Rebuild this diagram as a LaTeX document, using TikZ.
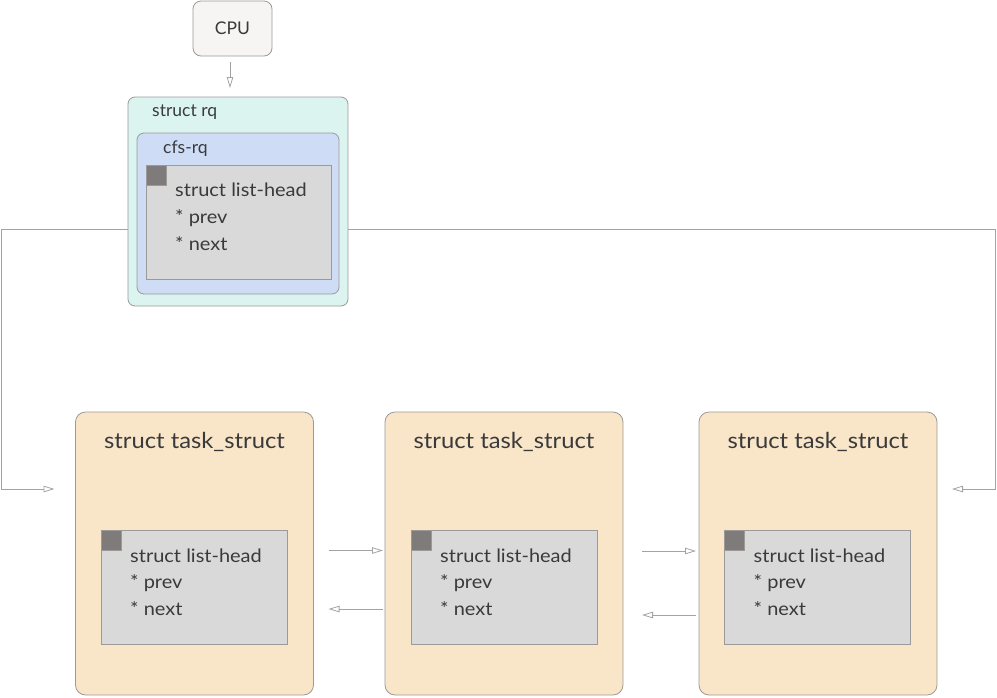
\documentclass[tikz,border=0pt]{standalone}
\usepackage{fontspec}
\setmainfont{Lato}
\newfontfamily\widefont{Lato}[FakeStretch=1.08]
\usetikzlibrary{arrows.meta,calc}
\definecolor{edge}{HTML}{9C9A98}
\definecolor{linkc}{HTML}{A3A3A3}
\definecolor{ink}{HTML}{3A3A3C}
\definecolor{cpufill}{HTML}{F6F5F4}
\definecolor{rqfill}{HTML}{DBF4F0}
\definecolor{cfsfill}{HTML}{CEDCF6}
\definecolor{headfill}{HTML}{D9D9D9}
\definecolor{markfill}{HTML}{7F7B7B}
\definecolor{taskfill}{HTML}{F9E5C7}
\begin{document}
\begin{tikzpicture}[x=1pt,y=-1pt,
  box/.style={draw=edge, line width=0.8pt, inner sep=0pt, outer sep=0pt},
  cpubox/.style={box, fill=cpufill, rounded corners=8pt, minimum width=79pt, minimum height=55pt,
    font=\fontsize{17.5}{20}\selectfont, text=ink},
  rqbox/.style={box, fill=rqfill, rounded corners=7pt},
  cfsbox/.style={box, fill=cfsfill, rounded corners=7pt},
  headbox/.style={box, fill=headfill, minimum width=186pt, minimum height=114pt},
  markbox/.style={box, fill=markfill, minimum width=20pt, minimum height=20pt, anchor=north west},
  taskbox/.style={box, fill=taskfill, rounded corners=10pt, minimum width=238pt, minimum height=283pt},
  lbl/.style={anchor=base west, inner sep=0pt, text=ink, font=\fontsize{17.5}{20}\selectfont},
  field/.style={anchor=base west, inner sep=0pt, text=ink, font=\widefont\fontsize{18.5}{22}\selectfont},
  title/.style={anchor=base, inner sep=0pt, text=ink, font=\widefont\fontsize{22}{26}\selectfont},
  link/.style={draw=linkc, line width=0.8pt, -{Triangle[open,length=11pt,width=6.5pt]}}
]
\useasboundingbox (0,0) rectangle (997,697);

% CPU and run queue
\node[cpubox] (cpu) at (232.5,28.5) {CPU};
\node[rqbox, minimum width=220pt, minimum height=209pt] (rq) at (238,201.5) {};
\node[lbl] (rqlbl) at ($(rq.north west)+(24,19)$) {struct rq};
\node[cfsbox, minimum width=202pt, minimum height=161pt] (cfs) at (238,213.5) {};
\node[lbl] (cfslbl) at ($(cfs.north west)+(26,20)$) {cfs-rq};
\node[headbox, minimum width=185pt] (lh0) at (238.5,222) {};
\node[markbox] (mk0) at (lh0.north west) {};
\node[field] (lh0a) at ($(lh0.north west)+(29,31)$) {struct list-head};
\node[field] (lh0b) at ($(lh0.north west)+(29,58)$) {* prev};
\node[field] (lh0c) at ($(lh0.north west)+(29,85)$) {* next};

% task structures with embedded list heads
\foreach \i/\cx/\hx in {1/194.5/194, 2/504/504, 3/818/817.5} {
  \node[taskbox] (t\i) at (\cx,553.5) {};
  \node[title] (tt\i) at ($(t\i.north)+(0,36)$) {struct task\_struct};
  \node[headbox] (lh\i) at (\hx,587) {};
  \node[markbox] (mk\i) at (lh\i.north west) {};
  \node[field] (lh\i a) at ($(lh\i.north west)+(29,32)$) {struct list-head};
  \node[field] (lh\i b) at ($(lh\i.north west)+(29,58.5)$) {* prev};
  \node[field] (lh\i c) at ($(lh\i.north west)+(29,85)$) {* next};
}

% connectors
\draw[link] ($(cpu.south)+(-2.5,6)$) -- ($(rq.north)+(-8,-9)$);
\draw[link] ($(rq.west)+(0,27.5)$) -- ++(-127,0) |- ($(t1.west)+(-21,-64.5)$);
\draw[link] ($(rq.east)+(0,27.5)$) -- ++(647.5,0) |- ($(t3.east)+(15,-64.5)$);
\draw[link] ($(t1.east)+(15,-3)$) -- ($(t2.west)+(-2,-3)$);
\draw[link] ($(t2.west)+(-2,55.5)$) -- ($(t1.east)+(15,55.5)$);
\draw[link] ($(t2.east)+(19,-2.5)$) -- ($(t3.west)+(-3,-2.5)$);
\draw[link] ($(t3.west)+(-3,61.5)$) -- ($(t2.east)+(19,61.5)$);
\end{tikzpicture}
\end{document}
